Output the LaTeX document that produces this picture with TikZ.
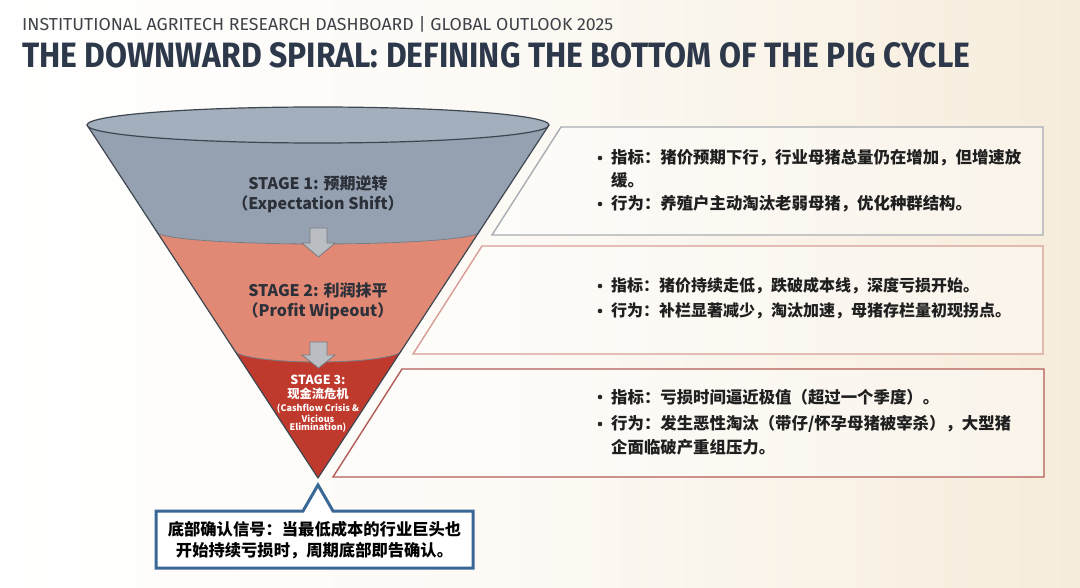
\documentclass[tikz,border=0pt]{standalone}
\usepackage{fontspec}
\usepackage{graphicx}
\newfontfamily\cjk{Noto Sans CJK SC}
\newfontfamily\hdr{Fira Sans}
\definecolor{bgcream}{RGB}{246,236,219}
\definecolor{navy}{RGB}{45,57,74}
\definecolor{hdrgray}{RGB}{62,66,72}
\definecolor{txtdark}{RGB}{44,48,56}
\definecolor{gtop}{RGB}{163,175,188}
\definecolor{gbody}{RGB}{149,161,177}
\definecolor{salmon}{RGB}{226,137,118}
\definecolor{crimson}{RGB}{192,57,45}
\definecolor{outl}{RGB}{62,70,80}
\definecolor{arrfill}{RGB}{186,189,193}
\definecolor{arrline}{RGB}{118,123,130}
\definecolor{pone}{RGB}{168,173,179}
\definecolor{ptwo}{RGB}{214,158,148}
\definecolor{pthree}{RGB}{178,92,86}
\definecolor{callblue}{RGB}{58,104,150}
\begin{document}
\begin{tikzpicture}[x=1pt,y=-1pt,
  stagetxt/.style={font=\cjk\bfseries\fontsize{16}{19}\selectfont, text=txtdark, align=center, inner sep=0pt},
  smalltxt/.style={font=\cjk\bfseries\fontsize{9}{10}\selectfont, text=white, align=center, inner sep=0pt},
  bul/.style={circle, fill=black!85, inner sep=0pt, minimum size=4.6pt},
  ptxt/.style={font=\cjk\bfseries\fontsize{16.4}{20}\selectfont, text=black!88, anchor=west, inner sep=0pt},
  panelbox/.style={fill=white, fill opacity=0.4, line width=1.4pt},
  blockarrow/.style={fill=arrfill, draw=arrline, line width=0.8pt, line join=miter},
  calltxt/.style={font=\cjk\bfseries\fontsize{16.3}{20}\selectfont, text=black, inner sep=0pt}
]
\useasboundingbox (0,0) rectangle (1080,588);
% background
\fill[left color=white, right color=bgcream, middle color=white!70!bgcream] (0,0) rectangle (1080,588);

% header
\node[anchor=base west, inner sep=0pt, text=hdrgray] (hdr) at (22,31)
  {\resizebox{591pt}{14pt}{\hdr INSTITUTIONAL AGRITECH RESEARCH DASHBOARD | GLOBAL OUTLOOK 2025}};
\node[anchor=base west, inner sep=0pt, text=navy] (title) at (22,68)
  {\resizebox{948pt}{25pt}{\hdr\bfseries THE DOWNWARD SPIRAL: DEFINING THE BOTTOM OF THE PIG CYCLE}};

% right panels
\draw[panelbox, draw=pone] (561,127) -- (1043,127) -- (1043,235) -- (492,235) -- cycle;
\draw[panelbox, draw=ptwo] (482,246) -- (1043,246) -- (1043,354) -- (413,354) -- cycle;
\draw[panelbox, draw=pthree] (402,369) -- (1044,369) -- (1044,477) -- (333,477) -- cycle;

% funnel stage 1 body
\fill[gbody] (87,125) -- (157,232) arc[start angle=180, end angle=0, x radius=161, y radius=12] -- (549,125) -- cycle;
% stage 2
\fill[salmon] (157,232) arc[start angle=180, end angle=0, x radius=161, y radius=12]
  -- (401.8,350) arc[start angle=0, end angle=180, x radius=83.8, y radius=12] -- cycle;
% stage 3
\fill[crimson] (234.2,350) arc[start angle=180, end angle=0, x radius=83.8, y radius=12] -- (318,478) -- cycle;
% boundaries
\draw[outl!70, line width=0.8pt] (157,232) arc[start angle=180, end angle=0, x radius=161, y radius=12];
\draw[outl!70, line width=0.8pt] (234.2,350) arc[start angle=180, end angle=0, x radius=83.8, y radius=12];
% outline of cone
\draw[outl, line width=1.2pt, line join=round] (87,125) -- (318,478) -- (549,125);
% top ellipse
\draw[fill=gtop, draw=outl, line width=1.2pt] (318,125) ellipse[x radius=231, y radius=18];

% block arrows
\draw[blockarrow] (310,228) -- (327,228) -- (327,243) -- (335,243) -- (318.5,257) -- (302,243) -- (310,243) -- cycle;
\draw[blockarrow] (310,342) -- (327,342) -- (327,355) -- (335,355) -- (318.5,368) -- (302,355) -- (310,355) -- cycle;

% stage labels
\node[stagetxt] (s1a) at (318,183) {STAGE 1: 预期逆转};
\node[stagetxt] (s1b) at (318,204) {（Expectation Shift）};
\node[stagetxt] (s2a) at (318,290) {STAGE 2: 利润抹平};
\node[stagetxt] (s2b) at (318,311) {（Profit Wipeout）};
\node[stagetxt, text=white, font=\cjk\bfseries\fontsize{12.5}{14}\selectfont] (s3a) at (318,380) {STAGE 3:};
\node[stagetxt, text=white, font=\cjk\bfseries\fontsize{12.3}{14}\selectfont] (s3b) at (318,394) {现金流危机};
\node[smalltxt] (s3c) at (318,409) {(Cashflow Crisis \&};
\node[smalltxt] (s3d) at (318,418.5) {Vicious};
\node[smalltxt] (s3e) at (318,428) {Elimination)};

% callout
\draw[fill=white, draw=callblue, line width=3pt, line join=miter] (156,511) -- (303,511) -- (318,485) -- (333,511) -- (473,511) -- (473,568) -- (156,568) -- cycle;
\node[calltxt] (c1) at (314.5,529) {底部确认信号：当最低成本的行业巨头也};
\node[calltxt] (c2) at (314.5,551) {开始持续亏损时，周期底部即告确认。};

% panel 1 text
\node[bul] (p1b1) at (600,158) {};
\node[ptxt] (p1l1) at (611,158) {指标：猪价预期下行，行业母猪总量仍在增加，但增速放};
\node[ptxt] (p1l2) at (611,180) {缓。};
\node[bul] (p1b2) at (600,204) {};
\node[ptxt] (p1l3) at (611,204) {行为：养殖户主动淘汰老弱母猪，优化种群结构。};

% panel 2 text
\node[bul] (p2b1) at (600,286) {};
\node[ptxt, font=\cjk\bfseries\fontsize{16}{20}\selectfont] (p2l1) at (611,286) {指标：猪价持续走低，跌破成本线，深度亏损开始。};
\node[bul] (p2b2) at (600,311) {};
\node[ptxt, font=\cjk\bfseries\fontsize{16}{20}\selectfont] (p2l2) at (611,311) {行为：补栏显著减少，淘汰加速，母猪存栏量初现拐点。};

% panel 3 text
\node[bul] (p3b1) at (600,397) {};
\node[ptxt] (p3l1) at (611,397) {指标：亏损时间逼近极值（超过一个季度）。};
\node[bul] (p3b2) at (600,424) {};
\node[ptxt] (p3l2) at (611,424) {行为：发生恶性淘汰（带仔/怀孕母猪被宰杀），大型猪};
\node[ptxt] (p3l3) at (611,447) {企面临破产重组压力。};
\end{tikzpicture}
\end{document}
